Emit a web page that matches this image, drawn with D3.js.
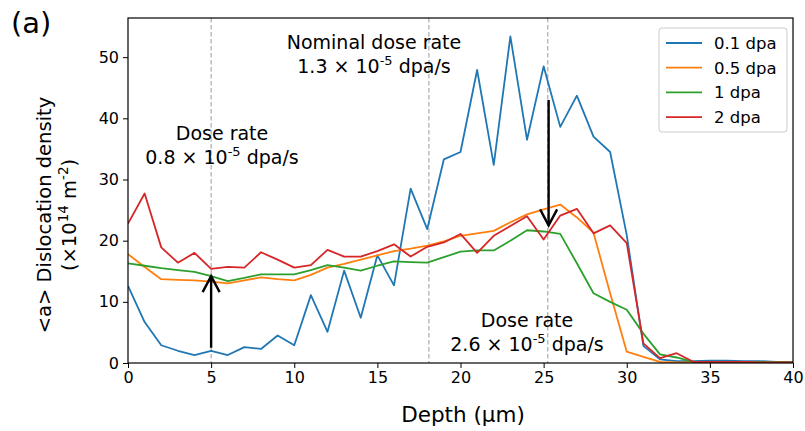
<!DOCTYPE html>
<html>
<head>
<meta charset="utf-8">
<script src="https://cdn.jsdelivr.net/npm/d3@7"></script>
<style>
  html, body { margin: 0; padding: 0; background: #fff; }
  text { font-family: "DejaVu Sans", sans-serif; fill: #000; }
</style>
</head>
<body>
<svg id="chart" width="805" height="431"></svg>
<script>
// ---- data ----
const depth = [0,1,2,3,4,5,6,7,8,9,10,11,12,13,14,15,16,17,18,19,20,21,22,23,24,25,26,27,28,29,30,31,32,33,34,35,36,37,38,39,40];
const dpa01 = [12.6,6.7,2.9,2.0,1.3,2.0,1.3,2.6,2.3,4.5,2.9,11.1,5.1,15.1,7.4,17.6,12.7,28.5,21.9,33.3,34.5,47.9,32.4,53.4,36.5,48.5,38.6,43.7,37.0,34.5,20.9,2.8,0.6,0.3,0.3,0.4,0.4,0.3,0.3,0.2,0.2];
const dpa05 = [17.8,15.7,13.7,13.6,13.5,13.3,13.0,13.5,14.0,13.7,13.5,14.4,15.6,16.2,16.9,17.6,18.3,18.7,19.2,19.9,20.8,21.2,21.6,23.0,24.3,25.1,25.9,23.8,21.3,11.4,1.85,1.0,0.2,0.1,0.1,0.1,0.1,0.1,0.1,0.1,0.1];
const dpa1  = [16.3,15.9,15.5,15.2,14.9,14.2,13.4,13.9,14.5,14.5,14.5,15.2,16.0,15.6,15.1,15.9,16.6,16.5,16.4,17.3,18.2,18.4,18.4,20.0,21.7,21.5,21.1,16.3,11.4,10.0,8.7,4.8,1.4,0.9,0.2,0.2,0.2,0.2,0.2,0.2,0.2];
const dpa2  = [22.8,27.7,18.9,16.4,18.0,15.4,15.7,15.6,18.1,16.9,15.6,16.0,18.5,17.4,17.4,18.3,19.4,17.4,19.0,19.7,21.1,18.0,20.8,22.4,24.0,20.2,24.1,25.2,21.2,22.5,19.6,3.2,0.8,1.6,0.2,0.2,0.2,0.2,0.1,0.1,0.1];
const seriesNames = ["0.1 dpa","0.5 dpa","1 dpa","2 dpa"];
const seriesColors = ["#1f77b4","#ff7f0e","#2ca02c","#d62728"];
const xTicks = [0,5,10,15,20,25,30,35,40];
const yTicks = [0,10,20,30,40,50];
const doseLines = [5, 18.1, 25.25];
const arrowUp = {x: 5, from: 2.5, to: 14.2};
const arrowDown = {x: 25.3, from: 43, to: 22.5};

// ---- layout ----
const svg = d3.select("#chart");
const L = 128, R = 793, T = 18, B = 363;
const x = d3.scaleLinear().domain([0, 40]).range([L, R]);
const y = d3.scaleLinear().domain([0, 56.4]).range([B, T]);

svg.append("rect").attr("width", 805).attr("height", 431).attr("fill", "#fff");

// dashed dose lines
svg.append("g").selectAll("line").data(doseLines).join("line")
  .attr("x1", d => x(d)).attr("x2", d => x(d))
  .attr("y1", T).attr("y2", B)
  .attr("stroke", "#9a9a9a").attr("stroke-width", 1)
  .attr("stroke-dasharray", "4.5,2.5");

// series
const allSeries = [dpa01, dpa05, dpa1, dpa2];
const line = d3.line().x((d, i) => x(depth[i])).y(d => y(d));
svg.append("clipPath").attr("id", "clip").append("rect")
  .attr("x", L).attr("y", T).attr("width", R - L).attr("height", B - T);
svg.append("g").attr("clip-path", "url(#clip)")
  .selectAll("path").data(allSeries).join("path")
  .attr("d", d => line(d))
  .attr("fill", "none")
  .attr("stroke", (d, i) => seriesColors[i])
  .attr("stroke-width", 1.8)
  .attr("stroke-linejoin", "round");

// arrows
function arrow(a) {
  const g = svg.append("g").attr("stroke", "#000").attr("stroke-width", 2.4).attr("fill", "none");
  const x0 = x(a.x), y0 = y(a.from), y1 = y(a.to);
  const dir = y1 < y0 ? 1 : -1;
  g.append("line").attr("x1", x0).attr("x2", x0).attr("y1", y0).attr("y2", y1);
  g.append("path").attr("d", `M${x0 - 8.5},${y1 + dir * 16} L${x0},${y1} L${x0 + 8.5},${y1 + dir * 16}`)
    .attr("stroke-linejoin", "miter");
}
arrow(arrowUp);
arrow(arrowDown);

// axes
const xAxis = d3.axisBottom(x).tickValues(xTicks).tickSize(5).tickPadding(4).tickFormat(d3.format("d"));
const yAxis = d3.axisLeft(y).tickValues(yTicks).tickSize(5).tickPadding(4).tickFormat(d3.format("d"));
const gx = svg.append("g").attr("transform", `translate(0,${B})`).call(xAxis);
const gy = svg.append("g").attr("transform", `translate(${L},0)`).call(yAxis);
[gx, gy].forEach(g => {
  g.select(".domain").remove();
  g.selectAll(".tick line").attr("stroke", "#000").attr("stroke-width", 1);
  g.selectAll(".tick text").attr("font-size", 16).attr("font-family", "DejaVu Sans").attr("fill", "#000");
});
// frame
svg.append("rect").attr("x", L).attr("y", T).attr("width", R - L).attr("height", B - T)
  .attr("fill", "none").attr("stroke", "#000").attr("stroke-width", 1.2);

// axis labels
svg.append("text").attr("x", 463).attr("y", 422).attr("text-anchor", "middle")
  .attr("font-size", 21.5).text("Depth (μm)");
const yl = svg.append("g").attr("transform", "translate(0,215) rotate(-90)");
yl.append("text").attr("x", 0).attr("y", 51).attr("text-anchor", "middle").attr("font-size", 19.5)
  .text("<a> Dislocation density");
const yl2 = yl.append("text").attr("x", 0).attr("y", 76).attr("text-anchor", "middle").attr("font-size", 19.5);
yl2.append("tspan").text("(×10");
yl2.append("tspan").attr("dy", -8).attr("font-size", 13.5).text("14");
yl2.append("tspan").attr("dy", 8).text(" m");
yl2.append("tspan").attr("dy", -8).attr("font-size", 13.5).text("-2");
yl2.append("tspan").attr("dy", 8).text(")");

// panel label
svg.append("text").attr("x", 11).attr("y", 33).attr("font-size", 29).text("(a)");

// annotations
function annot(cx, yb1, yb2, title, mant) {
  svg.append("text").attr("x", cx).attr("y", yb1).attr("text-anchor", "middle").attr("font-size", 19).text(title);
  const t = svg.append("text").attr("x", cx).attr("y", yb2).attr("text-anchor", "middle").attr("font-size", 19);
  t.append("tspan").text(mant + " × 10");
  t.append("tspan").attr("dy", -8).attr("font-size", 13).text("-5");
  t.append("tspan").attr("dy", 8).text(" dpa/s");
}
annot(222, 140, 164, "Dose rate", "0.8");
annot(374, 49, 73, "Nominal dose rate", "1.3");
annot(527, 327, 351, "Dose rate", "2.6");

// legend
const lg = svg.append("g");
lg.append("rect").attr("x", 659).attr("y", 28).attr("width", 128).attr("height", 104)
  .attr("rx", 3).attr("fill", "#fff").attr("fill-opacity", 0.8)
  .attr("stroke", "#cccccc").attr("stroke-width", 1);
seriesNames.forEach((n, i) => {
  const yy = 43 + i * 24.7;
  lg.append("line").attr("x1", 666).attr("x2", 702).attr("y1", yy).attr("y2", yy)
    .attr("stroke", seriesColors[i]).attr("stroke-width", 1.8);
  lg.append("text").attr("x", 714).attr("y", yy + 6).attr("font-size", 16.5).text(n);
});
</script>
</body>
</html>
